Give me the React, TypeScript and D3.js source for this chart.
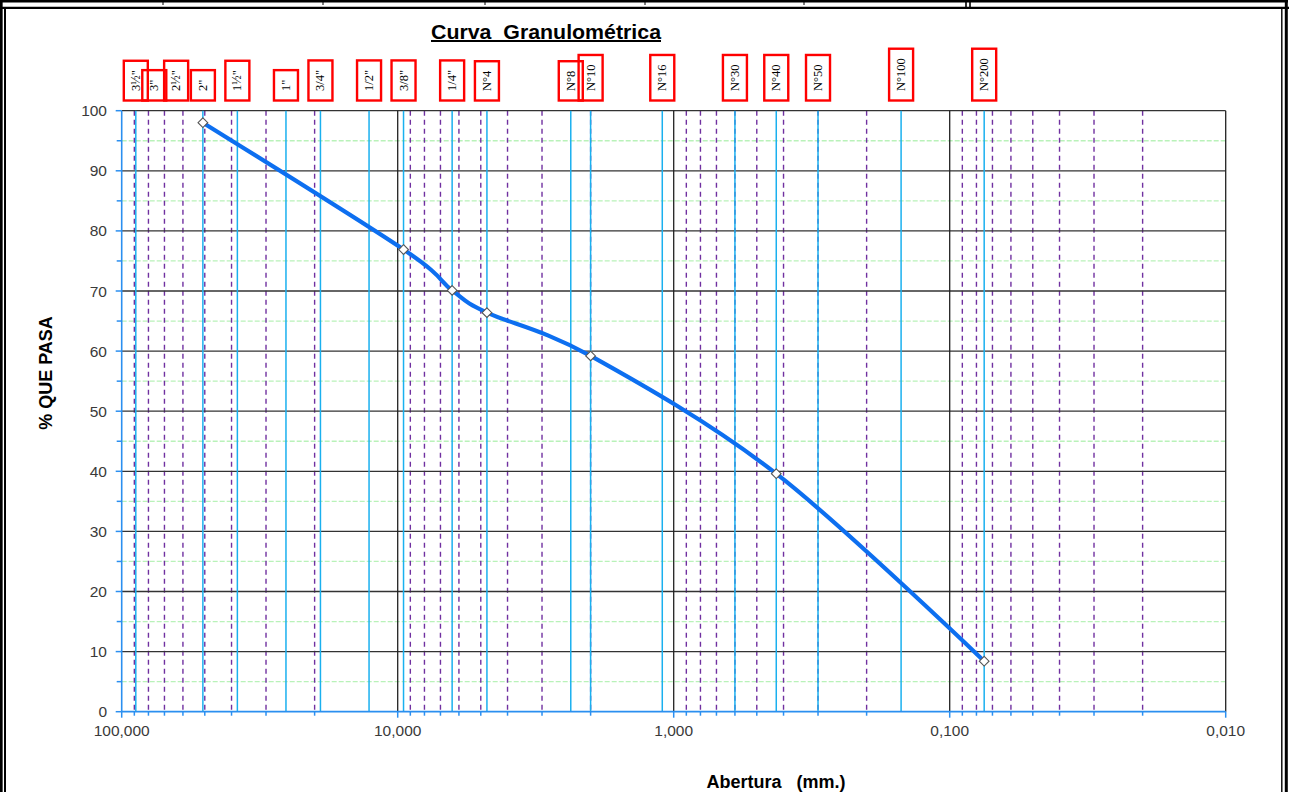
import React, { useEffect, useRef } from "react";
import * as d3 from "d3";

// ---- Data ----
const sieveLabels = ['3½"', '3"', '2½"', '2"', '1½"', '1"', '3/4"', '1/2"', '3/8"', '1/4"', 'N°4', 'N°8', 'N°10', 'N°16', 'N°30', 'N°40', 'N°50', 'N°100', 'N°200'];
const sieveOpenings = [88.9, 76.2, 63.5, 50.8, 38.1, 25.4, 19.05, 12.7, 9.525, 6.35, 4.75, 2.36, 2.0, 1.1, 0.6, 0.425, 0.3, 0.15, 0.075];
const sieveHasLine = [true, false, false, true, true, true, true, true, true, true, true, true, true, true, true, true, true, true, true];

const pointSizes = [50.8, 9.525, 6.35, 4.75, 2.0, 0.425, 0.075];
const pointPassing = [98.0, 76.9, 70.1, 66.4, 59.2, 39.6, 8.4];

const xDecades = [100, 10, 1, 0.1, 0.01];
const xTickLabels = ["100,000", "10,000", "1,000", "0,100", "0,010"];
const yMajorTicks = [0, 10, 20, 30, 40, 50, 60, 70, 80, 90, 100];
const yMinorTicks = [5, 15, 25, 35, 45, 55, 65, 75, 85, 95];
const minorMultipliers = [2, 3, 4, 5, 6, 7, 8, 9];

const title = "Curva  Granulométrica";
const xTitle = "Abertura   (mm.)";
const yTitle = "% QUE PASA";

const W = 1293;
const H = 792;

export default function App() {
  const ref = useRef<SVGSVGElement | null>(null);

  useEffect(() => {
    const svg = d3.select(ref.current);
    svg.selectAll("*").remove();

    const x = d3.scaleLog().domain([100, 0.01]).range([121.7, 1225.7]);
    const y = d3.scaleLinear().domain([0, 100]).range([711.7, 110.7]);
    const x0 = x(100), x1 = x(0.01), yTop = y(100), yBot = y(0);

    // frame
    const frame = svg.append("g");
    frame.append("line").attr("x1", 0).attr("x2", 1288).attr("y1", 1.3).attr("y2", 1.3).attr("stroke", "#000").attr("stroke-width", 2.6);
    [163, 323, 485, 645, 804].forEach((tx) => {
      frame.append("line").attr("x1", tx).attr("x2", tx).attr("y1", 0).attr("y2", 5).attr("stroke", "#000").attr("stroke-width", 1);
    });
    [966, 970].forEach((tx) => {
      frame.append("line").attr("x1", tx).attr("x2", tx).attr("y1", 0).attr("y2", 7).attr("stroke", "#000").attr("stroke-width", 1.6);
    });
    frame.append("line").attr("x1", 0).attr("x2", 1289).attr("y1", 7.8).attr("y2", 7.8).attr("stroke", "#000").attr("stroke-width", 2.3);
    frame.append("line").attr("x1", 1.3).attr("x2", 1.3).attr("y1", 0).attr("y2", H).attr("stroke", "#000").attr("stroke-width", 2.7);
    frame.append("line").attr("x1", 5).attr("x2", 5).attr("y1", 7).attr("y2", H).attr("stroke", "#000").attr("stroke-width", 2);
    frame.append("line").attr("x1", 1281.8).attr("x2", 1281.8).attr("y1", 7).attr("y2", H).attr("stroke", "#000").attr("stroke-width", 1.4);
    frame.append("line").attr("x1", 1286.3).attr("x2", 1286.3).attr("y1", 0).attr("y2", H).attr("stroke", "#000").attr("stroke-width", 3);

    // title
    svg.append("text").attr("x", 546).attr("y", 39).attr("text-anchor", "middle")
      .attr("font-family", "'Liberation Sans', Arial, sans-serif").attr("font-weight", "bold").attr("font-size", 20)
      .attr("textLength", 230).attr("lengthAdjust", "spacingAndGlyphs")
      .attr("fill", "#000").attr("text-decoration", "underline").style("white-space", "pre").text(title);

    const g = svg.append("g");

    // green dashed horizontal minor gridlines
    g.selectAll(".hminor").data(yMinorTicks).join("line")
      .attr("x1", x0).attr("x2", x1).attr("y1", (d) => y(d)).attr("y2", (d) => y(d))
      .attr("stroke", "#b9f2b9").attr("stroke-width", 1.3).attr("stroke-dasharray", "5,2");

    // purple dashed minor verticals
    const minorVals: number[] = [];
    [10, 1, 0.1, 0.01].forEach((dec) => minorMultipliers.forEach((m) => minorVals.push(dec * m)));
    g.selectAll(".vminor").data(minorVals).join("line")
      .attr("x1", (d) => x(d)).attr("x2", (d) => x(d)).attr("y1", yTop).attr("y2", yBot)
      .attr("stroke", "#7030a0").attr("stroke-width", 1.4).attr("stroke-dasharray", "5,4");

    // black horizontal major gridlines
    g.selectAll(".hmajor").data(yMajorTicks.filter((d) => d > 0)).join("line")
      .attr("x1", x0).attr("x2", x1).attr("y1", (d) => y(d)).attr("y2", (d) => y(d))
      .attr("stroke", "#333").attr("stroke-width", 1.3);

    // sieve blue lines
    const sieveIdx = sieveOpenings.map((_, i) => i).filter((i) => sieveHasLine[i]);
    g.selectAll(".sieve").data(sieveIdx).join("line")
      .attr("x1", (i) => x(sieveOpenings[i])).attr("x2", (i) => x(sieveOpenings[i]))
      .attr("y1", yTop).attr("y2", yBot)
      .attr("stroke", "#1ab0ef").attr("stroke-width", 1.5);

    // black decade verticals
    g.selectAll(".vmajor").data(xDecades.slice(1)).join("line")
      .attr("x1", (d) => x(d)).attr("x2", (d) => x(d)).attr("y1", yTop).attr("y2", yBot)
      .attr("stroke", "#222").attr("stroke-width", 1.3);

    // axes (blue)
    const axisColor = "#2b8ff0";
    g.append("line").attr("x1", x0).attr("x2", x0).attr("y1", yTop).attr("y2", yBot).attr("stroke", axisColor).attr("stroke-width", 1.6);
    g.append("line").attr("x1", x0).attr("x2", x1).attr("y1", yBot).attr("y2", yBot).attr("stroke", axisColor).attr("stroke-width", 1.8);
    g.selectAll(".ytickM").data(yMajorTicks).join("line")
      .attr("x1", x0 - 6).attr("x2", x0).attr("y1", (d) => y(d)).attr("y2", (d) => y(d))
      .attr("stroke", axisColor).attr("stroke-width", 1.5);
    g.selectAll(".ytickm").data(yMinorTicks).join("line")
      .attr("x1", x0 - 5).attr("x2", x0).attr("y1", (d) => y(d)).attr("y2", (d) => y(d))
      .attr("stroke", axisColor).attr("stroke-width", 1.5);
    g.selectAll(".xtickM").data(xDecades).join("line")
      .attr("x1", (d) => x(d)).attr("x2", (d) => x(d)).attr("y1", yBot).attr("y2", yBot + 6)
      .attr("stroke", axisColor).attr("stroke-width", 1.5);
    g.selectAll(".xtickm").data(minorVals).join("line")
      .attr("x1", (d) => x(d)).attr("x2", (d) => x(d)).attr("y1", yBot).attr("y2", yBot + 4)
      .attr("stroke", axisColor).attr("stroke-width", 1.5);

    // tick labels
    const lblFont = "'Liberation Sans', Arial, sans-serif";
    g.selectAll(".ylbl").data(yMajorTicks).join("text")
      .attr("x", 107).attr("y", (d) => y(d)).attr("dy", "0.36em").attr("text-anchor", "end")
      .attr("font-family", lblFont).attr("font-size", 15.5).attr("fill", "#3a3a3a").text((d) => String(d));
    g.selectAll(".xlbl").data(xDecades).join("text")
      .attr("x", (d) => x(d)).attr("y", 736).attr("text-anchor", "middle")
      .attr("font-family", lblFont).attr("font-size", 15.5).attr("fill", "#3a3a3a").text((_, i) => xTickLabels[i]);

    // axis titles
    svg.append("text").attr("transform", "translate(52,373) rotate(-90)").attr("text-anchor", "middle")
      .attr("font-family", lblFont).attr("font-weight", "bold").attr("font-size", 18).attr("fill", "#000").text(yTitle);
    svg.append("text").attr("x", 776).attr("y", 788).attr("text-anchor", "middle").style("white-space", "pre")
      .attr("font-family", lblFont).attr("font-weight", "bold").attr("font-size", 18).attr("fill", "#000").text(xTitle);

    // curve
    const pts = pointSizes.map((s, i) => [x(s), y(pointPassing[i])] as [number, number]);
    const line = d3.line<[number, number]>().curve(d3.curveCatmullRom.alpha(0));
    g.append("path").attr("d", line(pts)).attr("fill", "none").attr("stroke", "#0d6ff0").attr("stroke-width", 4.2).attr("stroke-linejoin", "round");
    const sym = d3.symbol().type(d3.symbolDiamond2).size(60);
    g.selectAll(".pt").data(pts).join("path")
      .attr("d", sym as any).attr("transform", (d) => `translate(${d[0]},${d[1]})`)
      .attr("fill", "#fff").attr("stroke", "#555").attr("stroke-width", 1.1);

    // sieve labels
    const lg = svg.append("g");
    sieveLabels.forEach((lab, i) => {
      const cx = x(sieveOpenings[i]);
      const t = lg.append("text")
        .attr("font-family", "'Liberation Serif', 'Times New Roman', serif").attr("font-size", 12.5).attr("fill", "#000")
        .attr("text-anchor", "middle").attr("dominant-baseline", "central").text(lab);
      const len = (t.node() as SVGTextElement).getComputedTextLength();
      const h = len + 19;
      const bottom = 100.5;
      const cy = bottom - h / 2;
      t.attr("transform", `translate(${cx},${cy}) rotate(-90)`);
      lg.insert("rect", "text").attr("x", cx - 12).attr("y", bottom - h).attr("width", 24).attr("height", h)
        .attr("fill", "none").attr("stroke", "#ff0000").attr("stroke-width", 2.4);
    });
  }, []);

  return (
    <svg ref={ref} width={W} height={H} style={{ position: "absolute", left: 0, top: 0, background: "#fff" }} />
  );
}
